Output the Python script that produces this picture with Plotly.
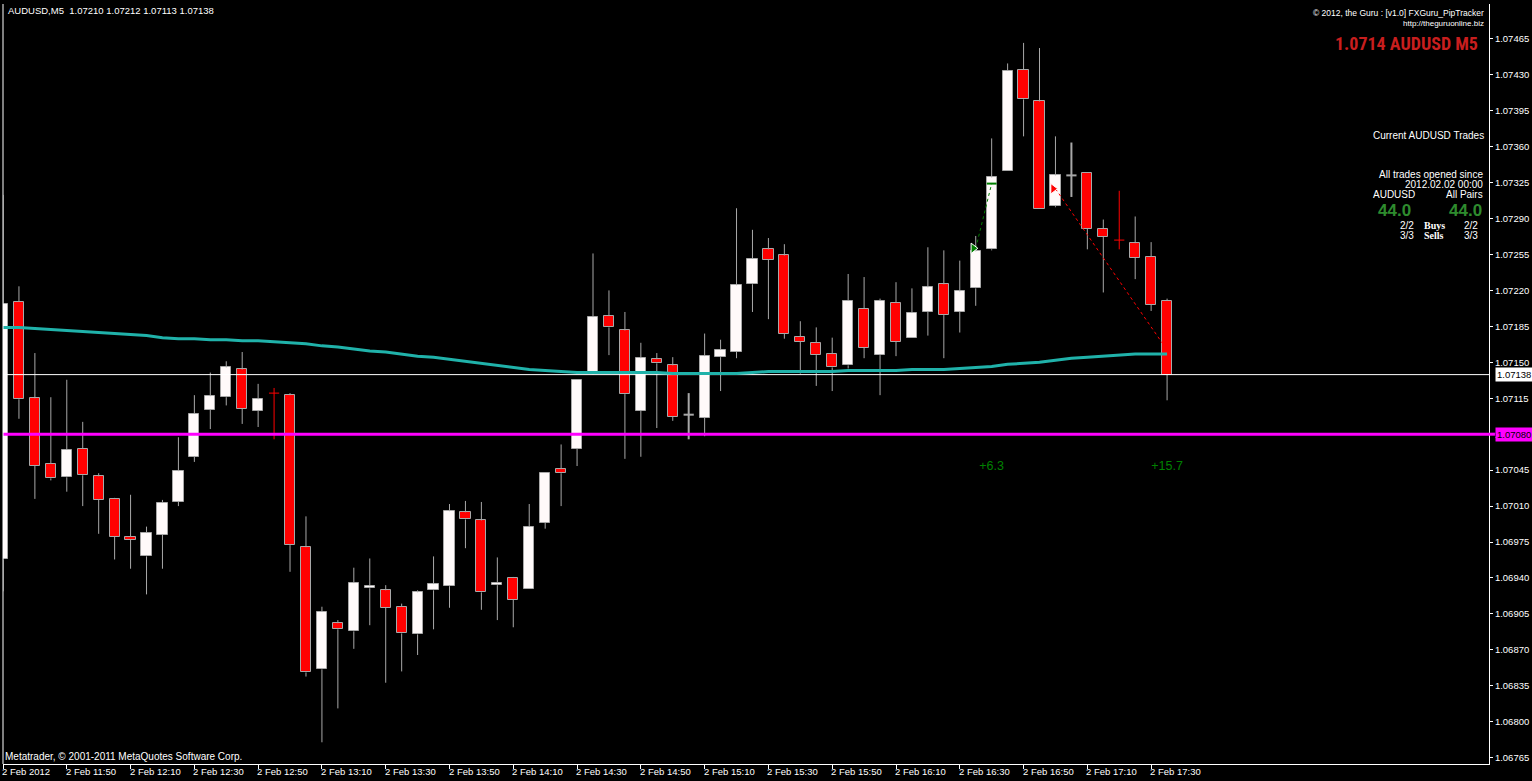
import plotly.graph_objects as go

# ---------------- data ----------------
header_text = "AUDUSD,M5  1.07210 1.07212 1.07113 1.07138"
time_labels = ["2 Feb 2012", "2 Feb 11:50", "2 Feb 12:10", "2 Feb 12:30", "2 Feb 12:50",
               "2 Feb 13:10", "2 Feb 13:30", "2 Feb 13:50", "2 Feb 14:10", "2 Feb 14:30",
               "2 Feb 14:50", "2 Feb 15:10", "2 Feb 15:30", "2 Feb 15:50", "2 Feb 16:10",
               "2 Feb 16:30", "2 Feb 16:50", "2 Feb 17:10", "2 Feb 17:30"]
time_label_bars = [0, 4, 8, 12, 16, 20, 24, 28, 32, 36, 40, 44, 48, 52, 56, 60, 64, 68, 72]

price_ticks = ["1.07465", "1.07430", "1.07395", "1.07360", "1.07325", "1.07290", "1.07255",
               "1.07220", "1.07185", "1.07150", "1.07115", "1.07080", "1.07045", "1.07010",
               "1.06975", "1.06940", "1.06905", "1.06870", "1.06835", "1.06800", "1.06765"]

opens = [1.06958, 1.07209, 1.07115, 1.07051, 1.07038, 1.07066, 1.07039, 1.07017, 1.06980, 1.06961,
         1.06982, 1.07014, 1.07058, 1.07104, 1.07116, 1.07143, 1.07103, 1.07120, 1.07118, 1.06970,
         1.06851, 1.06896, 1.06888, 1.06930, 1.06928, 1.06912, 1.06885, 1.06928, 1.06932, 1.07004,
         1.06996, 1.06933, 1.06940, 1.06929, 1.06994, 1.07046, 1.07066, 1.07140, 1.07195, 1.07181,
         1.07103, 1.07153, 1.07147, 1.07099, 1.07096, 1.07155, 1.07160, 1.07226, 1.07260, 1.07254,
         1.07175, 1.07169, 1.07158, 1.07147, 1.07202, 1.07157, 1.07208, 1.07174, 1.07199, 1.07226,
         1.07199, 1.07222, 1.07260, 1.07336, 1.07435, 1.07404, 1.07302, 1.07332, 1.07334, 1.07280,
         1.07269, 1.07266, 1.07253, 1.07210]
highs = [1.07313, 1.07224, 1.07159, 1.07116, 1.07133, 1.07092, 1.07042, 1.07018, 1.07021, 1.06990,
         1.07016, 1.07077, 1.07118, 1.07140, 1.07151, 1.07160, 1.07129, 1.07125, 1.07120, 1.07000,
         1.06912, 1.06899, 1.06950, 1.06959, 1.06933, 1.06915, 1.06928, 1.06961, 1.07012, 1.07015,
         1.07014, 1.06960, 1.06941, 1.07012, 1.07042, 1.07070, 1.07133, 1.07256, 1.07220, 1.07199,
         1.07169, 1.07159, 1.07155, 1.07120, 1.07178, 1.07172, 1.07300, 1.07279, 1.07271, 1.07265,
         1.07190, 1.07184, 1.07174, 1.07236, 1.07233, 1.07212, 1.07228, 1.07222, 1.07262, 1.07259,
         1.07249, 1.07273, 1.07368, 1.07441, 1.07461, 1.07456, 1.07370, 1.07364, 1.07334, 1.07289,
         1.07317, 1.07292, 1.07267, 1.07212]
lows = [1.06927, 1.07095, 1.07017, 1.07035, 1.07024, 1.07010, 1.06983, 1.06958, 1.06949, 1.06924,
        1.06949, 1.07010, 1.07053, 1.07085, 1.07108, 1.07090, 1.07087, 1.07075, 1.06946, 1.06844,
        1.06780, 1.06813, 1.06871, 1.06894, 1.06838, 1.06849, 1.06865, 1.06890, 1.06911, 1.06969,
        1.06909, 1.06899, 1.06892, 1.06929, 1.06988, 1.07010, 1.07049, 1.07138, 1.07157, 1.07056,
        1.07058, 1.07086, 1.07093, 1.07075, 1.07078, 1.07122, 1.07154, 1.07199, 1.07192, 1.07173,
        1.07139, 1.07127, 1.07122, 1.07144, 1.07154, 1.07118, 1.07156, 1.07174, 1.07176, 1.07154,
        1.07179, 1.07205, 1.07259, 1.07336, 1.07370, 1.07299, 1.07301, 1.07311, 1.07260, 1.07218,
        1.07260, 1.07231, 1.07200, 1.07113]
closes = [1.07207, 1.07114, 1.07049, 1.07037, 1.07065, 1.07040, 1.07016, 1.06980, 1.06977, 1.06984,
          1.07013, 1.07044, 1.07100, 1.07117, 1.07145, 1.07105, 1.07114, 1.07120, 1.06972, 1.06848,
          1.06907, 1.06890, 1.06935, 1.06932, 1.06911, 1.06886, 1.06926, 1.06934, 1.07005, 1.06997,
          1.06926, 1.06935, 1.06919, 1.06990, 1.07042, 1.07042, 1.07133, 1.07194, 1.07184, 1.07119,
          1.07154, 1.07149, 1.07097, 1.07099, 1.07156, 1.07162, 1.07225, 1.07251, 1.07250, 1.07178,
          1.07170, 1.07157, 1.07145, 1.07210, 1.07164, 1.07210, 1.07170, 1.07198, 1.07223, 1.07196,
          1.07219, 1.07258, 1.07330, 1.07434, 1.07406, 1.07299, 1.07332, 1.07332, 1.07280, 1.07272,
          1.07269, 1.07252, 1.07206, 1.07138]
ma_values = [1.07184, 1.07184, 1.07183, 1.07182, 1.07181, 1.07180, 1.07179, 1.07178, 1.07177, 1.07176,
             1.07174, 1.07173, 1.07173, 1.07172, 1.07172, 1.07171, 1.07171, 1.07170, 1.07169, 1.07168,
             1.07166, 1.07165, 1.07163, 1.07161, 1.07160, 1.07158, 1.07156, 1.07155, 1.07153, 1.07151,
             1.07149, 1.07147, 1.07145, 1.07143, 1.07142, 1.07141, 1.07140, 1.07140, 1.07140, 1.07140,
             1.07140, 1.07140, 1.07139, 1.07139, 1.07139, 1.07139, 1.07139, 1.07140, 1.07141, 1.07141,
             1.07141, 1.07141, 1.07141, 1.07142, 1.07142, 1.07142, 1.07142, 1.07143, 1.07143, 1.07143,
             1.07144, 1.07145, 1.07146, 1.07148, 1.07149, 1.07150, 1.07152, 1.07154, 1.07155, 1.07156,
             1.07157, 1.07158, 1.07158, 1.07158]
red_doji_bars = [17, 70]

current_price = 1.07138
level_price = 1.07080

buy_trade = {"open_bar": 61, "open_price": 1.07261, "close_bar": 62, "close_price": 1.07324, "pips": "+6.3"}
sell_trade = {"open_bar": 66, "open_price": 1.07319, "close_bar": 73, "close_price": 1.07162, "pips": "+15.7"}
pips_label_price = 1.07048

# ---------------- layout geometry ----------------
W, H = 1532, 781
PL, PR, PT, PB = 3, 1494, 4, 764
BAR_PX = 16.0
PX_PER_PRICE = 102700.0
REF_PRICE, REF_Y = 1.07150, 362.3
y_top = REF_PRICE + (REF_Y - PT) / PX_PER_PRICE
y_bot = REF_PRICE - (PB - REF_Y) / PX_PER_PRICE
x_max = (PR - PL) / BAR_PX


def px(x):
    return (x - PL) / (PR - PL)


def py(y):
    return (PB - y) / (PB - PT)


GRAY = "#A8A8A8"
BODY_W = 0.64
n = len(opens)
idx = list(range(n))

fig = go.Figure()

# bodies
bull_x, bull_base, bull_h = [], [], []
bear_x, bear_base, bear_h = [], [], []
for i in idx:
    o, c = opens[i], closes[i]
    if o == c:
        continue
    if c > o:
        bull_x.append(i); bull_base.append(o); bull_h.append(c - o)
    else:
        bear_x.append(i); bear_base.append(c); bear_h.append(o - c)

fig.add_trace(go.Bar(x=bull_x, y=bull_h, base=bull_base, width=BODY_W,
                     marker=dict(color="#FFFAFA", line=dict(color=GRAY, width=1)),
                     hoverinfo="skip", showlegend=False))
fig.add_trace(go.Bar(x=bear_x, y=bear_h, base=bear_base, width=BODY_W,
                     marker=dict(color="#FF0000", line=dict(color=GRAY, width=1)),
                     hoverinfo="skip", showlegend=False))

# wicks (split so they don't cross bodies)
wx, wy = [], []
dgx, dgy, drx, dry = [], [], [], []
for i in idx:
    o, c, h, l = opens[i], closes[i], highs[i], lows[i]
    if o == c:
        tx, ty = (drx, dry) if i in red_doji_bars else (dgx, dgy)
        tx += [i, i, None, i - BODY_W / 2, i + BODY_W / 2, None]
        ty += [h, l, None, o, o, None]
        continue
    top, bot = max(o, c), min(o, c)
    if h > top:
        wx += [i, i, None]; wy += [h, top, None]
    if l < bot:
        wx += [i, i, None]; wy += [bot, l, None]

fig.add_trace(go.Scatter(x=wx, y=wy, mode="lines", line=dict(color=GRAY, width=1),
                         hoverinfo="skip", showlegend=False))
fig.add_trace(go.Scatter(x=dgx, y=dgy, mode="lines", line=dict(color=GRAY, width=2),
                         hoverinfo="skip", showlegend=False))
fig.add_trace(go.Scatter(x=drx, y=dry, mode="lines", line=dict(color="#FF0000", width=1),
                         hoverinfo="skip", showlegend=False))

# horizontal levels
fig.add_trace(go.Scatter(x=[0, x_max], y=[level_price, level_price], mode="lines",
                         line=dict(color="#FF00FF", width=3), hoverinfo="skip", showlegend=False))
fig.add_trace(go.Scatter(x=[0, x_max], y=[current_price, current_price], mode="lines",
                         line=dict(color="#FFFFFF", width=1), hoverinfo="skip", showlegend=False))

# moving average
fig.add_trace(go.Scatter(x=idx, y=ma_values, mode="lines", line=dict(color="#20B2AA", width=3),
                         hoverinfo="skip", showlegend=False))

# trades
fig.add_trace(go.Scatter(x=[buy_trade["open_bar"], buy_trade["close_bar"]],
                         y=[buy_trade["open_price"], buy_trade["close_price"]], mode="lines",
                         line=dict(color="#008000", width=1, dash="dot"), hoverinfo="skip", showlegend=False))
fig.add_trace(go.Scatter(x=[sell_trade["open_bar"], sell_trade["close_bar"]],
                         y=[sell_trade["open_price"], sell_trade["close_price"]], mode="lines",
                         line=dict(color="#FF0000", width=1, dash="dot"), hoverinfo="skip", showlegend=False))
fig.add_trace(go.Scatter(x=[buy_trade["open_bar"] - 0.15], y=[buy_trade["open_price"]], mode="markers",
                         marker=dict(symbol="triangle-right", size=9, color="#008000",
                                     line=dict(color="#FFFFFF", width=1)), hoverinfo="skip", showlegend=False))
fig.add_trace(go.Scatter(x=[buy_trade["close_bar"]], y=[buy_trade["close_price"]], mode="markers",
                         marker=dict(symbol="line-ew", size=7, color="#008000",
                                     line=dict(color="#008000", width=2)), hoverinfo="skip", showlegend=False))
fig.add_trace(go.Scatter(x=[sell_trade["open_bar"] - 0.15], y=[sell_trade["open_price"]], mode="markers",
                         marker=dict(symbol="triangle-right", size=9, color="#FF0000",
                                     line=dict(color="#FFFFFF", width=1)), hoverinfo="skip", showlegend=False))
fig.add_trace(go.Scatter(x=[buy_trade["close_bar"], sell_trade["close_bar"]],
                         y=[pips_label_price, pips_label_price], mode="text",
                         text=[buy_trade["pips"], sell_trade["pips"]],
                         textfont=dict(color="#008000", size=12.5, family="Liberation Sans"),
                         hoverinfo="skip", showlegend=False))

ann = []
FONT = "Liberation Sans, Arial, sans-serif"


def txt(text, x, y, anchor="left", size=10, color="#FFFFFF", family=FONT, bold=False):
    if bold:
        text = "<b>" + text + "</b>"
    ann.append(dict(text=text, x=px(x), y=py(y), xref="paper", yref="paper",
                    xanchor=anchor, yanchor="middle", showarrow=False,
                    font=dict(size=size, color=color, family=family), borderpad=0))


txt(header_text, 7, 11, "left", 9.5)
txt("© 2012, the Guru : [v1.0] FXGuru_PipTracker", 1490, 13, "right", 8.5)
txt("http://theguruonline.biz", 1490, 23.5, "right", 8)
txt("1.0714 " + "AUDUSD" + " M5", 1484, 43.5, "right", 18, "#C81E1E",
    "Liberation Sans Narrow, Arial Narrow, Roboto Condensed, Liberation Sans", bold=True)
txt("Current AUDUSD Trades", 1490, 135, "right", 10)
txt("All trades opened since", 1489, 174.5, "right", 10)
txt("2012.02.02 00:00", 1489, 184.5, "right", 10)
txt("AUDUSD", 1377, 194.5, "left", 10)
txt("All Pairs", 1489, 194.5, "right", 10)
txt("44.0", 1382, 210.5, "left", 17, "#2E8B2E", bold=True)
txt("44.0", 1488, 210.5, "right", 17, "#2E8B2E", bold=True)
txt("2/2", 1404, 225.5, "left", 10)
txt("2/2", 1484, 225.5, "right", 10)
txt("3/3", 1404, 235.5, "left", 10)
txt("3/3", 1484, 235.5, "right", 10)
txt("Buys", 1439.5, 225.5, "center", 10, family="Liberation Serif, serif", bold=True)
txt("Sells", 1438.5, 235.5, "center", 10, family="Liberation Serif, serif", bold=True)
txt("Metatrader, © 2001-2011 MetaQuotes Software Corp.", 4, 756.5, "left", 10)

# time labels
for b, lab in zip(time_label_bars, time_labels):
    ann.append(dict(text=lab, x=b, y=0, xref="x", yref="paper", xanchor="left", yanchor="top",
                    yshift=-1, xshift=-2, showarrow=False, borderpad=0,
                    font=dict(size=9.5, color="#FFFFFF", family=FONT)))

# price boxes on axis
ann.append(dict(text=f"{current_price:.5f}", x=1, y=current_price, xref="paper", yref="y",
                xanchor="left", yanchor="middle", xshift=6, showarrow=False, bgcolor="#FFFFFF",
                borderpad=1, font=dict(size=9.5, color="#000000", family=FONT)))
ann.append(dict(text=f"{level_price:.5f}", x=1, y=level_price, xref="paper", yref="y",
                xanchor="left", yanchor="middle", xshift=6, showarrow=False, bgcolor="#FF00FF",
                borderpad=1, font=dict(size=9.5, color="#000000", family=FONT)))

shapes = [
    dict(type="line", xref="paper", yref="paper", x0=0, x1=0, y0=0, y1=1,
         line=dict(color="#FFFFFF", width=1)),
    dict(type="line", xref="paper", yref="y", x0=1, x1=1.004, y0=level_price, y1=level_price,
         line=dict(color="#FF00FF", width=3)),
]

fig.update_layout(
    width=W, height=H,
    margin=dict(l=PL, r=W - PR, t=PT, b=H - PB, pad=0),
    paper_bgcolor="#000000", plot_bgcolor="#000000",
    barmode="overlay", bargap=0,
    showlegend=False,
    annotations=ann, shapes=shapes,
    xaxis=dict(range=[0, x_max], showgrid=False, zeroline=False, showline=True,
               linecolor="#FFFFFF", linewidth=1, ticks="outside", ticklen=4, tickcolor="#FFFFFF",
               tickvals=time_label_bars, showticklabels=False, fixedrange=True),
    yaxis=dict(range=[y_bot, y_top], side="right", showgrid=False, zeroline=False, showline=True,
               linecolor="#FFFFFF", linewidth=1, ticks="outside", ticklen=3, tickcolor="#FFFFFF",
               tickvals=[float(t) for t in price_ticks], ticktext=price_ticks,
               tickfont=dict(size=9.5, color="#FFFFFF", family=FONT), fixedrange=True),
)

fig.write_html("out.html", config={"displayModeBar": False},
               post_script="document.body.style.margin='0';document.body.style.overflow='hidden';")
